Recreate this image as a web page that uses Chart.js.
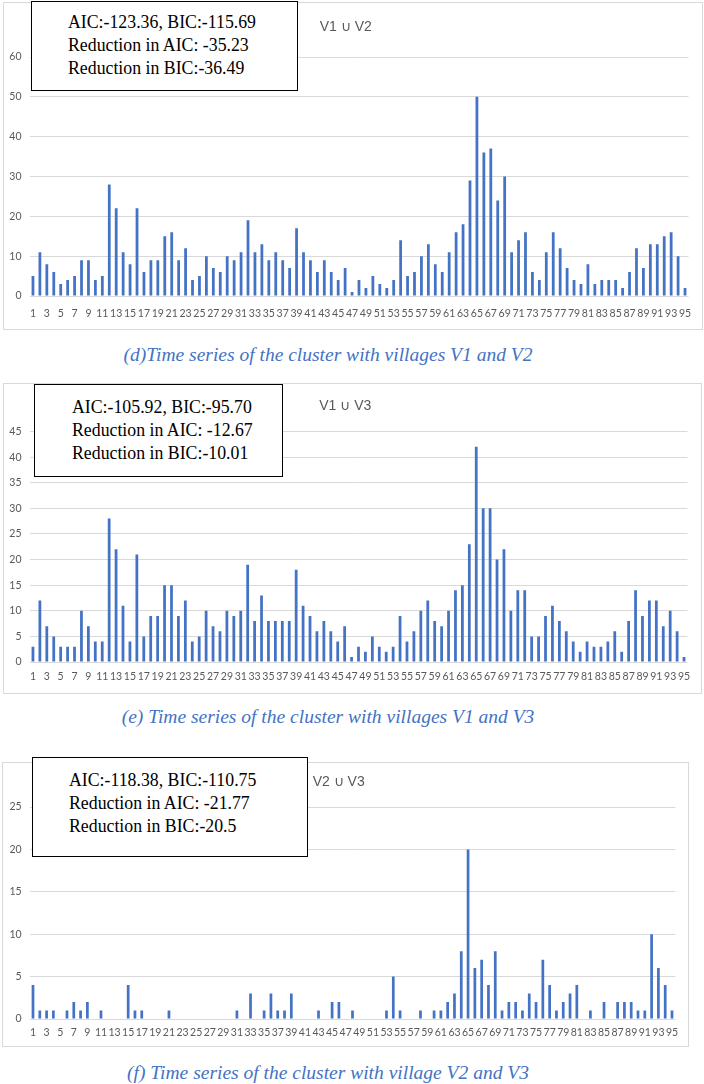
<!DOCTYPE html>
<html>
<head>
<meta charset="utf-8">
<script src="https://cdn.jsdelivr.net/npm/chart.js@4/dist/chart.umd.min.js"></script>
<style>
  html, body { margin: 0; padding: 0; background: #ffffff; }
  body { position: relative; width: 704px; height: 1084px; overflow: hidden; }
  .frame { position: absolute; box-sizing: border-box; border: 1px solid #d9d9d9; pointer-events: none; }
  canvas { position: absolute; }
  .stat { position: absolute; box-sizing: border-box; border: 1.5px solid #000; background: #fff;
          font-family: "Liberation Serif", "Times New Roman", serif; font-size: 17.8px; line-height: 23px; color: #000; white-space: nowrap; }
  .cap { position: absolute; left: 0; width: 656px; text-align: center; font-family: "Liberation Serif", "Times New Roman", serif;
         font-style: italic; font-size: 19.5px; color: #4472C4; white-space: nowrap; line-height: 22px; }
</style>
</head>
<body>
<div class="frame" style="left:3px;top:2px;width:700px;height:328px;"></div>
<canvas id="c1" width="700" height="328" style="left:3px;top:2px;"></canvas>
<div class="stat" style="left:31px;top:1px;width:267px;height:90px;padding:9px 0 0 36px;">AIC:-123.36, BIC:-115.69<br>Reduction in AIC: -35.23<br>Reduction in BIC:-36.49</div>
<div class="cap" style="top:344px;">(d)Time series of the cluster with villages V1 and V2</div>

<div class="frame" style="left:3px;top:383px;width:699px;height:311px;"></div>
<canvas id="c2" width="699" height="311" style="left:3px;top:383px;"></canvas>
<div class="stat" style="left:34px;top:384px;width:249px;height:93px;padding:11px 0 0 37px;">AIC:-105.92, BIC:-95.70<br>Reduction in AIC: -12.67<br>Reduction in BIC:-10.01</div>
<div class="cap" style="top:706px;">(e) Time series of the cluster with villages V1 and V3</div>

<div class="frame" style="left:2px;top:762px;width:687px;height:285px;"></div>
<canvas id="c3" width="687" height="285" style="left:2px;top:762px;"></canvas>
<div class="stat" style="left:32px;top:757px;width:276px;height:100px;padding:11px 0 0 36px;">AIC:-118.38, BIC:-110.75<br>Reduction in AIC: -21.77<br>Reduction in BIC:-20.5</div>
<div class="cap" style="top:1062px;">(f) Time series of the cluster with village V2 and V3</div>

<script>
// ---- data ----
const categories = Array.from({length: 95}, (_, i) => String(i + 1));

const v1v2 = [5,11,8,6,3,4,5,9,9,4, 5,28,22,11,8,22,6,9,9,15, 16,9,12,4,5,10,7,6,10,9,
              11,19,11,13,9,11,9,7,17,11, 9,6,9,6,4,7,1,4,2,5, 3,2,4,14,5,6,10,13,8,6,
              11,16,18,29,50,36,37,24,30,11, 14,16,6,4,11,16,12,7,4,3, 8,3,4,4,4,2,6,12,7,13,
              13,15,16,10,2];

const v1v3 = [3,12,7,5,3,3,3,10,7,4, 4,28,22,11,4,21,5,9,9,15, 15,9,12,4,5,10,7,6,10,9,
              10,19,8,13,8,8,8,8,18,11, 9,6,8,6,4,7,1,3,2,5, 3,2,3,9,4,6,10,12,8,7,
              10,14,15,23,42,30,30,20,22,10, 14,14,5,5,9,11,8,6,4,2, 4,3,3,4,6,2,8,14,9,12,
              12,7,10,6,1];

const v2v3 = [4,1,1,1,0,1,2,1,2,0, 1,0,0,0,4,1,1,0,0,0, 1,0,0,0,0,0,0,0,0,0,
              1,0,3,0,1,3,1,1,3,0, 0,0,1,0,2,2,0,1,0,0, 0,0,1,5,1,0,0,1,0,1,
              1,2,3,8,20,6,7,4,8,1, 2,2,1,3,2,7,4,1,2,3, 4,0,1,0,2,0,2,2,2,1,
              1,10,6,4,1];

const panelTitles = ['V1 \u222A V2', 'V1 \u222A V3', 'V2 \u222A V3'];
const yMaxes = [60, 45, 25];
const ySteps = [10, 5, 5];

// ---- chart builder ----
const tickFont = { family: 'Lato, "Liberation Sans", sans-serif', size: 10.5 };
function build(id, data, title, yMax, yStep, g) {
  new Chart(document.getElementById(id), {
    type: 'bar',
    data: { labels: categories, datasets: [{ data: data, backgroundColor: '#4472C4', borderWidth: 0,
             barPercentage: 0.4, categoryPercentage: 1.0 }] },
    options: {
      responsive: false, animation: false, devicePixelRatio: 1,
      layout: { padding: { left: 0, right: g.right, top: 0, bottom: 0 } },
      plugins: {
        legend: { display: false }, tooltip: { enabled: false },
        title: { display: true, text: title, color: '#595959',
                 font: { family: '"Liberation Sans", Arial, sans-serif', size: 14, weight: 'normal', lineHeight: 1.2 },
                 padding: { top: g.tTop, bottom: g.tBottom } }
      },
      scales: {
        x: {
          grid: { display: false, drawTicks: false }, border: { display: false },
          ticks: { autoSkip: false, maxRotation: 0, minRotation: 0, padding: g.xPad, color: '#595959', font: tickFont,
                   callback: (v, i) => (i % 2 === 0 ? categories[i] : '') },
          afterFit: s => { s.height = g.xh; }
        },
        y: {
          min: 0, max: yMax,
          grid: { color: '#d9d9d9', lineWidth: 1, drawTicks: false }, border: { display: false },
          ticks: { stepSize: yStep, padding: 8, color: '#595959', font: tickFont },
          afterFit: s => { s.width = g.yw; }
        }
      }
    }
  });
}

build('c1', v1v2, panelTitles[0], yMaxes[0], ySteps[0], { right: 14.5, tTop: 16.6, tBottom: 21.6, xh: 34, xPad: 11, yw: 26.5 });
build('c2', v1v3, panelTitles[1], yMaxes[1], ySteps[1], { right: 14.5, tTop: 14.6, tBottom: 17.1, xh: 32, xPad: 8.5, yw: 26.5 });
build('c3', v2v3, panelTitles[2], yMaxes[2], ySteps[2], { right: 13.6, tTop: 11.6, tBottom: 16.6, xh: 28, xPad: 7.5, yw: 27.6 });
</script>
</body>
</html>
